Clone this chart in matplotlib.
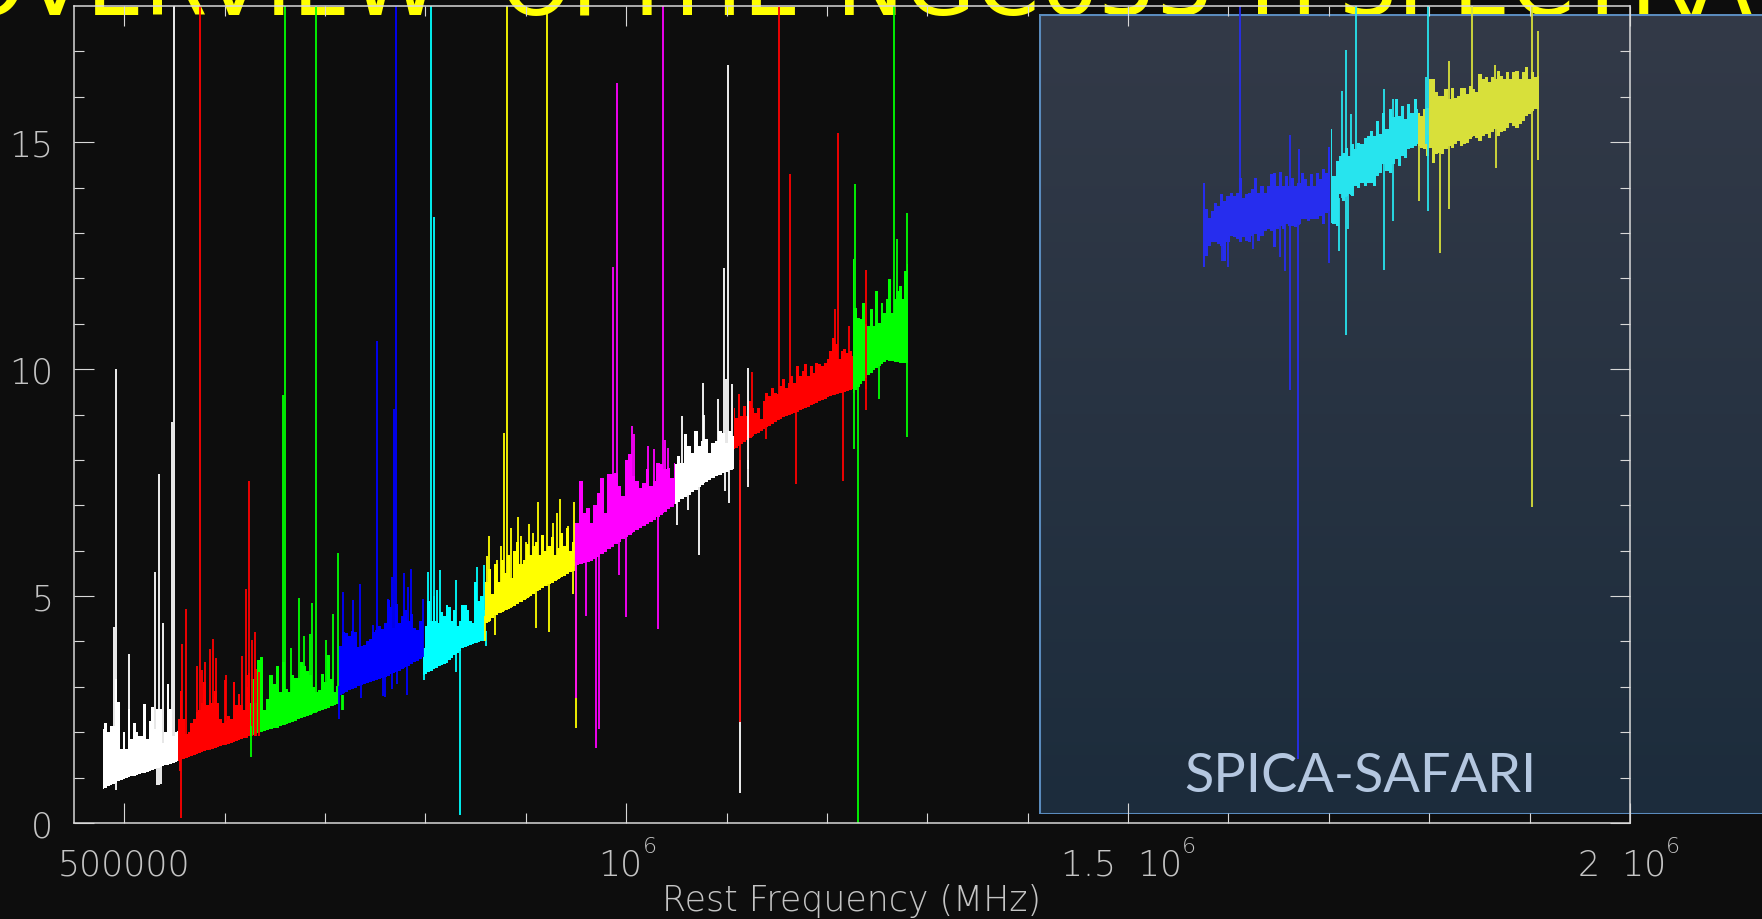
import numpy as np
import matplotlib
matplotlib.use('Agg')
import matplotlib.pyplot as plt
from matplotlib.patches import Rectangle
from matplotlib.transforms import ScaledTranslation

# Frequencies are in units of 1000 MHz, intensities in axis units.
W1_X = [479, 499, 526, 554]
W1_LO = [0.75, 0.97, 1.15, 1.37]
W1_TOP = [2.07, 2.2, 2.0, 2.14, 2.14, 3.17, 2.66, 1.63, 2.0, 1.63, 2.51, 1.85, 2.2, 2.0, 1.92, 1.92, 2.62, 1.85, 2.25, 2.55, 2.07, 2.51, 2.51, 1.77, 2.0, 3.06, 2.51, 1.92, 2.0, 2.03]
W1_UP_X = [490, 492, 505, 531, 535, 539, 548, 550]
W1_UP_Y = [4.32, 10.0, 3.72, 5.52, 7.69, 4.4, 8.83, 19]
W1_DN_X = [492, 533, 535, 537]
W1_DN_Y = [0.73, 0.84, 0.84, 0.86]

R1_X = [554, 566, 579, 592, 606, 622, 625]
R1_LO = [1.37, 1.47, 1.57, 1.67, 1.76, 1.88, 1.92]
R1_TOP = [2.3, 2.9, 2.3, 1.95, 2.0, 2.2, 2.3, 2.45, 2.5, 2.65, 3.1, 2.6, 2.7, 2.65, 2.9, 2.65, 2.3, 2.2, 2.25, 2.35, 2.3, 3.1, 2.6, 2.85, 2.6, 2.5, 3.0, 3.3]
R1_UP_X = [558, 562, 573, 576, 578, 580, 585, 588, 591, 600, 601, 617, 621, 622, 624, 627.5, 630, 631, 634]
R1_UP_Y = [3.94, 4.71, 3.45, 19, 3.36, 3.54, 3.83, 4.05, 3.63, 3.16, 3.25, 3.67, 5.15, 3.25, 7.53, 4.03, 4.2, 3.39, 3.32]
R1_DN_X = [556, 557]
R1_DN_Y = [1.15, 0.1]

G1_X = [625, 639, 652, 679, 713]
G1_LO = [1.92, 2.02, 2.1, 2.33, 2.62]
G1_TOP = [2.65, 3.17, 2.65, 3.6, 3.65, 2.5, 2.73, 3.25, 3.06, 3.46, 2.88, 3.54, 2.95, 2.88, 3.25, 3.2, 3.2, 3.54, 3.46, 3.35, 3.25, 2.99, 2.88, 2.92, 3.28, 3.1, 3.7, 3.17, 2.88, 3.02]
G1_UP_X = [658, 660, 666, 674, 679, 685, 687, 691, 701, 708, 713]
G1_UP_Y = [9.43, 19, 3.85, 4.96, 4.11, 4.16, 4.84, 19, 4.03, 4.6, 5.95]
G1_DN_X = [626.5, 717, 718]
G1_DN_Y = [1.45, 2.5, 2.5]

B1_X = [713, 735, 755, 775, 782, 798]
B1_LO = [2.8, 3.03, 3.17, 3.36, 3.45, 3.65]
B1_TOP = [4.05, 3.9, 4.2, 4.18, 4.12, 4.24, 4.2, 3.87, 3.9, 3.92, 4.0, 4.05, 4.2, 4.25, 4.35, 4.28, 4.4, 4.92, 4.75, 4.3, 4.82, 4.4, 4.55, 4.7, 4.45, 4.6, 4.3, 4.25, 4.45, 4.5]
B1_UP_X = [718, 728, 735, 748, 752, 763, 767, 768.6, 770.5, 779, 783, 786, 798]
B1_UP_Y = [5.1, 4.91, 5.27, 4.36, 10.63, 4.93, 5.41, 9.13, 19, 5.5, 5.19, 5.6, 4.93]
B1_DN_X = [714, 736, 758, 760, 767, 772, 782]
B1_DN_Y = [2.29, 2.75, 2.8, 2.78, 2.95, 3.06, 2.83]

C1_X = [798, 808, 822, 838, 858]
C1_LO = [3.25, 3.39, 3.54, 3.87, 4.02]
C1_TOP = [3.85, 4.35, 4.9, 4.45, 5.0, 4.45, 4.4, 4.65, 4.55, 4.8, 4.75, 4.45, 4.7, 4.35, 4.45, 4.8, 4.8, 4.7, 4.45, 4.4, 5.3, 4.9, 5.0, 5.0]
C1_UP_X = [803, 806, 808.5, 812, 815, 831, 851, 858]
C1_UP_Y = [5.54, 19, 13.36, 5.14, 5.57, 5.35, 5.63, 5.68]
C1_DN_X = [799, 831, 835, 860]
C1_DN_Y = [3.15, 3.32, 0.18, 3.9]

Y1_X = [858, 872, 892, 912, 932, 948]
Y1_LO = [4.35, 4.6, 4.82, 5.12, 5.37, 5.56]
Y1_TOP = [4.7, 5.3, 5.6, 5.05, 5.7, 5.3, 5.8, 5.5, 5.9, 5.4, 6.0, 6.2, 5.7, 5.8, 6.15, 5.9, 6.1, 6.2, 5.9, 6.35, 6.0, 6.1, 6.3, 5.9, 6.05, 6.4, 6.1, 6.5, 6.0, 6.2]
Y1_UP_X = [861, 863, 871, 875, 878, 881, 885, 892, 895, 900, 903, 907, 912, 917, 921, 927, 931, 934, 942, 948]
Y1_UP_Y = [5.89, 6.33, 5.79, 6.11, 8.6, 19, 6.5, 6.75, 6.33, 6.2, 6.59, 6.4, 7.08, 6.34, 19, 6.62, 6.84, 7.13, 6.54, 7.08]
Y1_DN_X = [859, 869, 910, 923, 947, 950]
Y1_DN_Y = [4.02, 4.14, 4.3, 4.2, 5.04, 2.09]

M1_X = [948, 967, 987, 1007, 1027, 1049]
M1_LO = [5.67, 5.78, 6.1, 6.4, 6.66, 7.03]
M1_TOP = [6.62, 6.62, 7.54, 6.84, 6.95, 6.62, 7.0, 7.28, 7.6, 6.84, 7.7, 7.69, 7.72, 7.43, 7.21, 8.0, 8.13, 7.65, 7.54, 7.39, 7.5, 7.8, 7.43, 7.54, 7.94, 7.9, 7.8, 7.83, 7.61, 7.94]
M1_UP_X = [987, 991, 1006, 1008, 1022, 1028, 1037, 1039, 1042]
M1_UP_Y = [12.25, 16.3, 8.75, 8.57, 8.31, 8.25, 19, 8.44, 8.27]
M1_DN_X = [950, 960, 970, 973, 993, 1000, 1032]
M1_DN_Y = [2.75, 4.57, 1.65, 2.07, 5.47, 4.53, 4.27]

W2_X = [1049, 1067, 1084, 1107]
W2_LO = [7.03, 7.3, 7.58, 7.8]
W2_TOP = [7.9, 8.09, 7.94, 8.57, 8.3, 8.16, 8.64, 8.3, 8.42, 8.46, 8.16, 8.38, 8.42, 8.64, 8.6, 8.38, 8.64, 8.53]
W2_UP_X = [1056, 1077, 1078, 1092, 1097, 1099, 1101, 1105, 1121]
W2_UP_Y = [8.96, 9.69, 9.0, 9.34, 12.22, 9.78, 16.7, 9.67, 10.02]
W2_DN_X = [1051, 1062, 1073, 1098, 1102, 1113, 1121]
W2_DN_Y = [6.56, 6.9, 5.9, 7.32, 7.06, 0.66, 7.4]

R2_X = [1107, 1127, 1153, 1180, 1204, 1226]
R2_LO = [8.23, 8.53, 8.9, 9.15, 9.41, 9.56]
R2_TOP = [9.15, 8.93, 9.45, 8.97, 9.19, 8.97, 9.3, 9.15, 9.04, 9.15, 8.89, 9.3, 9.48, 9.41, 9.59, 9.48, 9.45, 9.63, 9.79, 9.59, 9.7, 9.85, 9.7, 10.07, 9.85, 9.96, 10.11, 9.85, 10.07, 9.92, 10.14, 10.11, 10.07, 10.14, 10.22, 10.4, 10.69, 10.55, 10.22, 10.4, 10.44, 10.36, 10.4, 10.29]
R2_UP_X = [1125, 1152, 1163, 1208, 1211, 1222, 1239]
R2_UP_Y = [9.94, 19, 14.3, 11.32, 15.2, 10.94, 12.18]
R2_DN_X = [1113, 1139, 1169, 1216, 1239]
R2_DN_Y = [2.22, 8.45, 7.47, 7.54, 9.11]

G2_X = [1226, 1243, 1260, 1273, 1281]
G2_LO = [9.48, 9.9, 10.2, 10.14, 10.14]
G2_TOP = [12.42, 11.35, 11.13, 11.1, 11.46, 10.99, 10.95, 11.32, 10.95, 11.72, 11.02, 11.46, 11.24, 11.54, 11.98, 11.24, 11.54, 11.72, 11.83, 11.54, 12.16, 12.31]
G2_UP_X = [1228, 1267, 1270, 1280]
G2_UP_Y = [14.07, 19, 12.86, 13.45]
G2_DN_X = [1227, 1231, 1252, 1280]
G2_DN_Y = [8.25, 0.0, 9.35, 8.51]

B3_X = [1575, 1701]
B3_LO = [12.24, 12.5, 12.72, 12.79, 12.79, 12.75, 12.72, 12.39, 12.79, 12.94, 12.9, 12.86, 12.79, 12.9, 12.83, 12.79, 12.94, 12.97, 12.83, 12.94, 13.05, 13.08, 13.05, 12.68, 13.08, 13.16, 13.08, 13.19, 13.16, 13.16, 13.12, 13.19, 13.3, 13.3, 13.27, 13.3, 13.3, 13.3, 13.38, 13.19, 13.45, 13.49]
B3_TOP = [14.1, 13.52, 13.34, 13.49, 13.67, 13.6, 13.85, 13.71, 13.82, 13.89, 13.82, 13.89, 14.22, 13.78, 13.85, 13.89, 13.97, 14.22, 13.89, 14.04, 13.89, 14.04, 14.3, 14.33, 14.04, 14.35, 14.04, 14.26, 14.04, 14.22, 14.04, 14.11, 14.33, 14.19, 14.04, 14.3, 14.04, 14.31, 14.19, 14.41, 14.33, 14.9]
B3_UP_X = [1612, 1661, 1670]
B3_UP_Y = [19, 15.15, 14.85]
B3_DN_X = [1576, 1594, 1600, 1624, 1651, 1656, 1661, 1669, 1700]
B3_DN_Y = [12.24, 12.39, 12.24, 12.64, 12.46, 12.17, 9.54, 1.41, 12.33]

C3_X = [1702, 1789]
C3_LO = [13.23, 13.2, 13.16, 13.86, 13.71, 13.82, 13.86, 13.82, 14.04, 14.0, 14.11, 14.04, 14.11, 14.11, 14.04, 14.26, 14.33, 14.52, 14.37, 14.33, 14.52, 14.63, 14.48, 14.7, 14.66, 14.85, 14.88, 14.92, 14.96]
C3_TOP = [15.3, 14.26, 14.59, 14.7, 14.77, 14.88, 14.7, 14.96, 14.85, 14.99, 14.96, 15.1, 15.14, 15.25, 15.14, 15.47, 15.18, 15.65, 15.29, 15.73, 15.55, 15.95, 15.58, 15.8, 15.51, 15.84, 15.65, 15.96, 15.73]
C3_UP_X = [1713, 1717, 1722, 1727, 1755, 1764, 1797, 1799]
C3_UP_Y = [16.13, 17.03, 15.62, 19, 16.18, 15.95, 16.43, 19]
C3_DN_X = [1710, 1717, 1719, 1755, 1764, 1799]
C3_DN_Y = [12.6, 10.75, 13.08, 12.19, 13.27, 13.49]

Y3_X = [1789, 1909]
Y3_LO = [14.92, 14.88, 14.85, 14.7, 14.88, 14.55, 14.74, 14.77, 14.74, 14.85, 14.92, 14.88, 14.96, 15.03, 14.92, 14.96, 14.99, 15.07, 15.14, 15.1, 15.03, 15.14, 15.18, 15.1, 15.22, 15.29, 15.14, 15.22, 15.25, 15.32, 15.43, 15.36, 15.32, 15.4, 15.47, 15.58, 15.62, 15.69, 15.73, 15.73]
Y3_TOP = [15.65, 15.58, 15.73, 15.76, 16.39, 16.39, 16.1, 16.02, 16.02, 16.17, 15.95, 16.2, 15.98, 16.02, 16.2, 16.2, 16.06, 16.24, 16.17, 16.1, 16.5, 16.39, 16.43, 16.32, 16.43, 16.39, 16.57, 16.46, 16.39, 16.54, 16.39, 16.54, 16.57, 16.39, 16.54, 16.65, 16.39, 16.54, 16.43, 16.46]
Y3_UP_X = [1820, 1843, 1866, 1902, 1908]
Y3_UP_Y = [16.78, 19, 16.7, 19, 17.45]
Y3_DN_X = [1790, 1811, 1820, 1867, 1902, 1908]
Y3_DN_Y = [13.71, 12.56, 13.53, 14.44, 6.96, 14.61]

BANDS = [
    ('#ffffff', W1_X, W1_LO, W1_TOP, W1_UP_X, W1_UP_Y, W1_DN_X, W1_DN_Y),
    ('#ff0000', R1_X, R1_LO, R1_TOP, R1_UP_X, R1_UP_Y, R1_DN_X, R1_DN_Y),
    ('#00ff00', G1_X, G1_LO, G1_TOP, G1_UP_X, G1_UP_Y, G1_DN_X, G1_DN_Y),
    ('#0000ff', B1_X, B1_LO, B1_TOP, B1_UP_X, B1_UP_Y, B1_DN_X, B1_DN_Y),
    ('#00ffff', C1_X, C1_LO, C1_TOP, C1_UP_X, C1_UP_Y, C1_DN_X, C1_DN_Y),
    ('#ffff00', Y1_X, Y1_LO, Y1_TOP, Y1_UP_X, Y1_UP_Y, Y1_DN_X, Y1_DN_Y),
    ('#ff00ff', M1_X, M1_LO, M1_TOP, M1_UP_X, M1_UP_Y, M1_DN_X, M1_DN_Y),
    ('#ffffff', W2_X, W2_LO, W2_TOP, W2_UP_X, W2_UP_Y, W2_DN_X, W2_DN_Y),
    ('#ff0000', R2_X, R2_LO, R2_TOP, R2_UP_X, R2_UP_Y, R2_DN_X, R2_DN_Y),
    ('#00ff00', G2_X, G2_LO, G2_TOP, G2_UP_X, G2_UP_Y, G2_DN_X, G2_DN_Y),
    ('#262dee', B3_X, B3_LO, B3_TOP, B3_UP_X, B3_UP_Y, B3_DN_X, B3_DN_Y),
    ('#27e4ee', C3_X, C3_LO, C3_TOP, C3_UP_X, C3_UP_Y, C3_DN_X, C3_DN_Y),
    ('#d8e03a', Y3_X, Y3_LO, Y3_TOP, Y3_UP_X, Y3_UP_Y, Y3_DN_X, Y3_DN_Y),
]

X_TICKS = [500, 1000, 1500, 2000]
X_TICK_LABELS = ['500000', '10', '1.5  10', '2  10']
Y_TICKS = [0, 5, 10, 15]
X_LABEL = 'Rest Frequency (MHz)'
TITLE_WORDS = ['OVERVIEW', 'OF', 'THE', 'NGC633', 'H', 'SPECTRA']
PANEL_LABEL = 'SPICA-SAFARI'

BG = '#0d0d0d'
FG = '#d8d8d8'
LABEL_C = '#c4c4c4'
W, H = 1762, 920
LABEL_FONT = dict(family='DejaVu Sans', fontweight=200)

fig = plt.figure(figsize=(W / 100, H / 100), dpi=100, facecolor=BG)

# title sits behind everything and is cropped by the top of the figure
for word, left in zip(TITLE_WORDS, [-46, 500, 618, 836, 1249, 1339]):
    fig.text(left / W, 1 - 15 / H, word, color='#ffff00', fontsize=66, family='DejaVu Sans',
             ha='left', va='baseline', zorder=0)

# gradient panel
pax = fig.add_axes([1039 / W, 1 - 815 / H, (W - 1039) / W, 800 / H], zorder=1)
grad = np.linspace(0, 1, 256)[:, None, None]
top = np.array([51, 58, 72]) / 255
bot = np.array([28, 44, 60]) / 255
pax.imshow(top * (1 - grad) + bot * grad, aspect='auto', extent=(0, 1, 0, 1))
pax.set_axis_off()
pax.add_patch(Rectangle((0, 0), 1.1, 1, fill=False, ec='#5a8bbd', lw=2.2, transform=pax.transAxes, clip_on=True))

ax = fig.add_axes([74 / W, 1 - 824 / H, (1630 - 74) / W, 817 / H], zorder=2)
ax.patch.set_alpha(0)
ax.set_xlim(450, 2000)
ax.set_ylim(0, 18)

for colour, x, lo, tp, up_x, up_y, dn_x, dn_y in BANDS:
    # a two-entry x list means the lower edge is sampled at the same steps as the top edge
    lo_x = np.linspace(x[0], x[-1], len(lo)) if len(x) == 2 else x
    fx = np.linspace(x[0], x[-1], len(tp))
    ax.fill_between(fx, np.interp(fx, lo_x, lo), tp, step='mid', color=colour, lw=0)
    ax.vlines(up_x, np.interp(up_x, lo_x, lo), up_y, color=colour, lw=1.3)
    ax.vlines(dn_x, dn_y, np.interp(dn_x, lo_x, lo) + 0.2, color=colour, lw=1.3)

for s in ax.spines.values():
    s.set_color(FG)
    s.set_linewidth(1.1)
ax.set_xticks(X_TICKS, X_TICK_LABELS, color=LABEL_C, fontsize=25, **LABEL_FONT)
ax.set_yticks(Y_TICKS, [str(v) for v in Y_TICKS], color=LABEL_C, fontsize=25, **LABEL_FONT)
ax.set_xticks(np.arange(600, 2000, 100), minor=True)
ax.set_yticks(np.arange(1, 18), minor=True)
ax.tick_params(which='major', length=14.4, width=0.8, color=FG, direction='in', top=True, right=True)
ax.tick_params(axis='x', which='major', pad=18)
ax.tick_params(axis='y', which='major', pad=15)
ax.tick_params(which='minor', length=7.2, width=0.8, color=FG, direction='in', top=True, right=True)
for lab, dx in zip(ax.get_xticklabels(), [0, -6, -7, -8]):
    lab.set_transform(lab.get_transform() + ScaledTranslation(dx / 100, 0, fig.dpi_scale_trans))
for xv, off in zip(X_TICKS[1:], [17, 54, 36]):
    ax.annotate('6', xy=(xv, 0), xycoords='data', xytext=(off, -29), textcoords='offset pixels',
                color=LABEL_C, fontsize=16, va='baseline', annotation_clip=False, **LABEL_FONT)
ax.set_xlabel(X_LABEL, color=LABEL_C, fontsize=25, **LABEL_FONT)
ax.xaxis.set_label_coords(852 / W, 1 - 911 / H, transform=fig.transFigure)
ax.xaxis.label.set_va('baseline')

fig.text(1360 / W, 1 - 792 / H, PANEL_LABEL, color='#b4c7e0', fontsize=39, family='Lato',
         ha='center', va='baseline', zorder=5)

fig.savefig('out.png', dpi=100, facecolor=BG)
